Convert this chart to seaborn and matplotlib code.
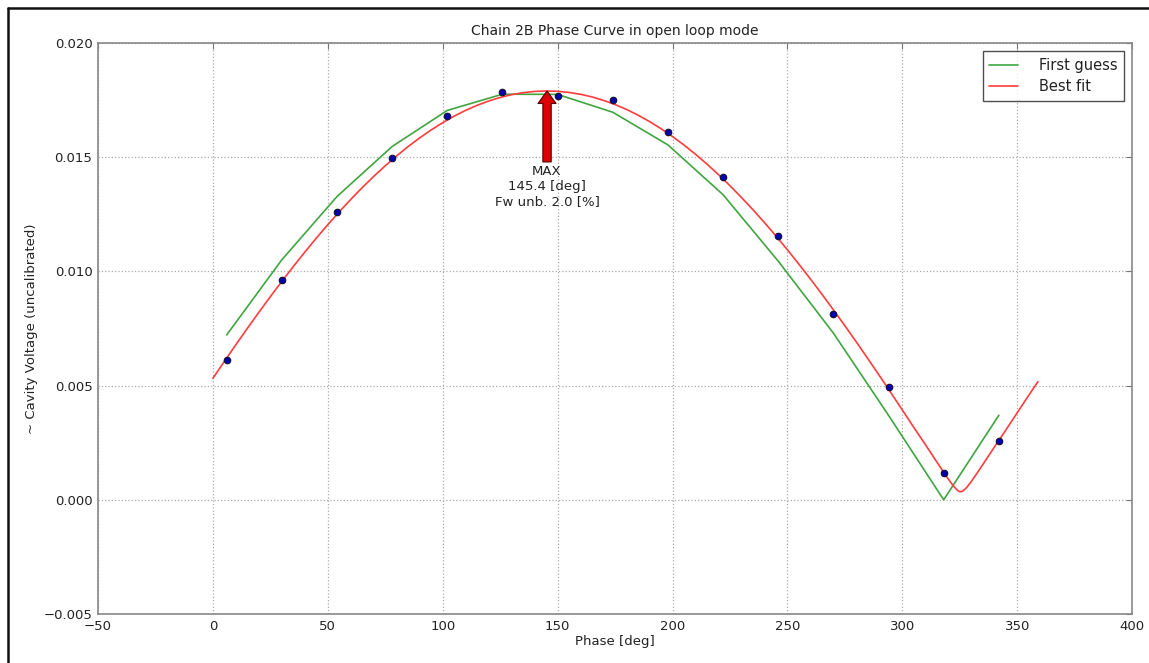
import numpy as np
import pandas as pd
import matplotlib
matplotlib.use("Agg")
import matplotlib.pyplot as plt
from matplotlib.lines import Line2D
import seaborn as sns

# Measured cavity voltage at each phase setting
phase_meas = [6, 30, 54, 78, 102, 126, 150, 174, 198, 222, 246, 270, 294, 318, 342]
volt_meas = [0.00613, 0.00963, 0.01261, 0.01497, 0.01681, 0.01786, 0.01769, 0.01751,
             0.01611, 0.01414, 0.01156, 0.00814, 0.00495, 0.00118, 0.00258]

# First-guess model evaluated at the measured phases
volt_guess = [0.00722, 0.01051, 0.01328, 0.01547, 0.01705, 0.01776, 0.01775, 0.01697,
              0.01554, 0.01336, 0.01045, 0.00730, 0.00370, 0.00000, 0.00370]

# Best-fit curve
phase_fit = [0, 5, 10, 15, 20, 25, 30, 35, 40, 45, 50, 55, 60, 65, 70, 75, 80, 85,
             90, 95, 100, 105, 110, 115, 120, 125, 130, 135, 140, 145, 150, 155,
             160, 165, 170, 175, 180, 185, 190, 195, 200, 205, 210, 215, 220, 225,
             230, 235, 240, 245, 250, 255, 260, 265, 270, 275, 280, 285, 290, 295,
             300, 305, 310, 315, 318, 320, 322, 324, 325, 326, 328, 330, 333, 336,
             340, 345, 350, 355, 359]
volt_fit = [0.005323, 0.006063, 0.006793, 0.007509, 0.008211, 0.008896, 0.009566,
            0.010216, 0.010847, 0.011458, 0.012047, 0.012612, 0.013155, 0.013672,
            0.014162, 0.014626, 0.015063, 0.015471, 0.015849, 0.016196, 0.016513,
            0.016799, 0.017053, 0.017274, 0.017461, 0.017617, 0.017739, 0.017827,
            0.017880, 0.017900, 0.017886, 0.017837, 0.017755, 0.017639, 0.017488,
            0.017306, 0.017091, 0.016842, 0.016561, 0.016250, 0.015906, 0.015534,
            0.015131, 0.014698, 0.014238, 0.013753, 0.013239, 0.012702, 0.012140,
            0.011554, 0.010946, 0.010318, 0.009670, 0.009004, 0.008320, 0.007622,
            0.006908, 0.006181, 0.005442, 0.004693, 0.003934, 0.003170, 0.002424,
            0.001659, 0.001207, 0.000913, 0.000636, 0.000413, 0.000356, 0.000362,
            0.000536, 0.000799, 0.001237, 0.001690, 0.002301, 0.003047, 0.003813,
            0.004572, 0.005173]

max_phase = 145.4
max_volt = 0.0179
fw_unbalance = 2.0

x_ticks = [-50, 0, 50, 100, 150, 200, 250, 300, 350, 400]
y_ticks = [-0.005, 0.000, 0.005, 0.010, 0.015, 0.020]

sns.set_style("white")
plt.rcParams["font.family"] = ["DejaVu Sans"]

fig = plt.figure(figsize=(11.49, 6.63), dpi=100)
ax = fig.add_axes([0.0853, 0.0739, 0.9000, 0.8612])

green = "#3fa53f"
red = "#ff3c3c"

df_guess = pd.DataFrame({"phase": phase_meas, "volt": volt_guess})
df_fit = pd.DataFrame({"phase": phase_fit, "volt": volt_fit})
df_meas = pd.DataFrame({"phase": phase_meas, "volt": volt_meas})

sns.lineplot(data=df_guess, x="phase", y="volt", ax=ax, color=green, lw=1.2,
             sort=False, estimator=None, label="First guess", zorder=2)
sns.lineplot(data=df_fit, x="phase", y="volt", ax=ax, color=red, lw=1.2,
             sort=False, estimator=None, label="Best fit", zorder=3)
sns.scatterplot(data=df_meas, x="phase", y="volt", ax=ax, color="#0000b0",
                edgecolor="#101030", linewidth=0.8, s=22, zorder=4, legend=False)

ax.annotate(f"MAX\n{max_phase:.1f} [deg]\nFw unb. {fw_unbalance:.1f} [%]",
            xy=(max_phase, max_volt), xytext=(max_phase, 0.01465),
            ha="center", va="top", fontsize=9.5, color="#222222",
            arrowprops=dict(facecolor="#dd0000", edgecolor="#550000", lw=0.8,
                            width=6, headwidth=13, headlength=9, shrink=0.0),
            zorder=5)

ax.set_xlim(-50, 400)
ax.set_ylim(-0.005, 0.020)
ax.set_xticks(x_ticks)
ax.set_yticks(y_ticks)
ax.set_yticklabels([f"{v:.3f}".replace("-", "\u2212") for v in y_ticks])
ax.tick_params(direction="in", length=4, width=0.8, colors="#777777",
               labelcolor="#222222", labelsize=9.5, pad=4, top=True, right=True)
ax.grid(True, linestyle=":", color="#aaaaaa", lw=0.9)
for sp in ax.spines.values():
    sp.set_color("#888888")
    sp.set_linewidth(1.2)

ax.set_title("Chain 2B Phase Curve in open loop mode", fontsize=10,
             color="#222222", pad=6)
ax.set_xlabel("Phase [deg]", fontsize=9.5, color="#222222", labelpad=2)
ax.set_ylabel("~ Cavity Voltage (uncalibrated)", fontsize=9.5, color="#222222",
              labelpad=4)

leg = ax.legend(loc="upper right", fontsize=10.5, frameon=True, fancybox=False,
                borderaxespad=0.55, handlelength=2.0, handletextpad=1.4,
                labelspacing=0.45, borderpad=0.45)
leg.get_frame().set_edgecolor("#222222")
leg.get_frame().set_linewidth(1.0)
for t in leg.get_texts():
    t.set_color("#222222")

# Page frame along the top and left edges
fig.add_artist(Line2D([8 / 1149, 8 / 1149], [0, 1 - 8 / 663], color="#111111",
                      lw=1.8, transform=fig.transFigure))
fig.add_artist(Line2D([8 / 1149, 1], [1 - 8 / 663, 1 - 8 / 663], color="#111111",
                      lw=1.8, transform=fig.transFigure))

fig.savefig("out.png", dpi=100)
